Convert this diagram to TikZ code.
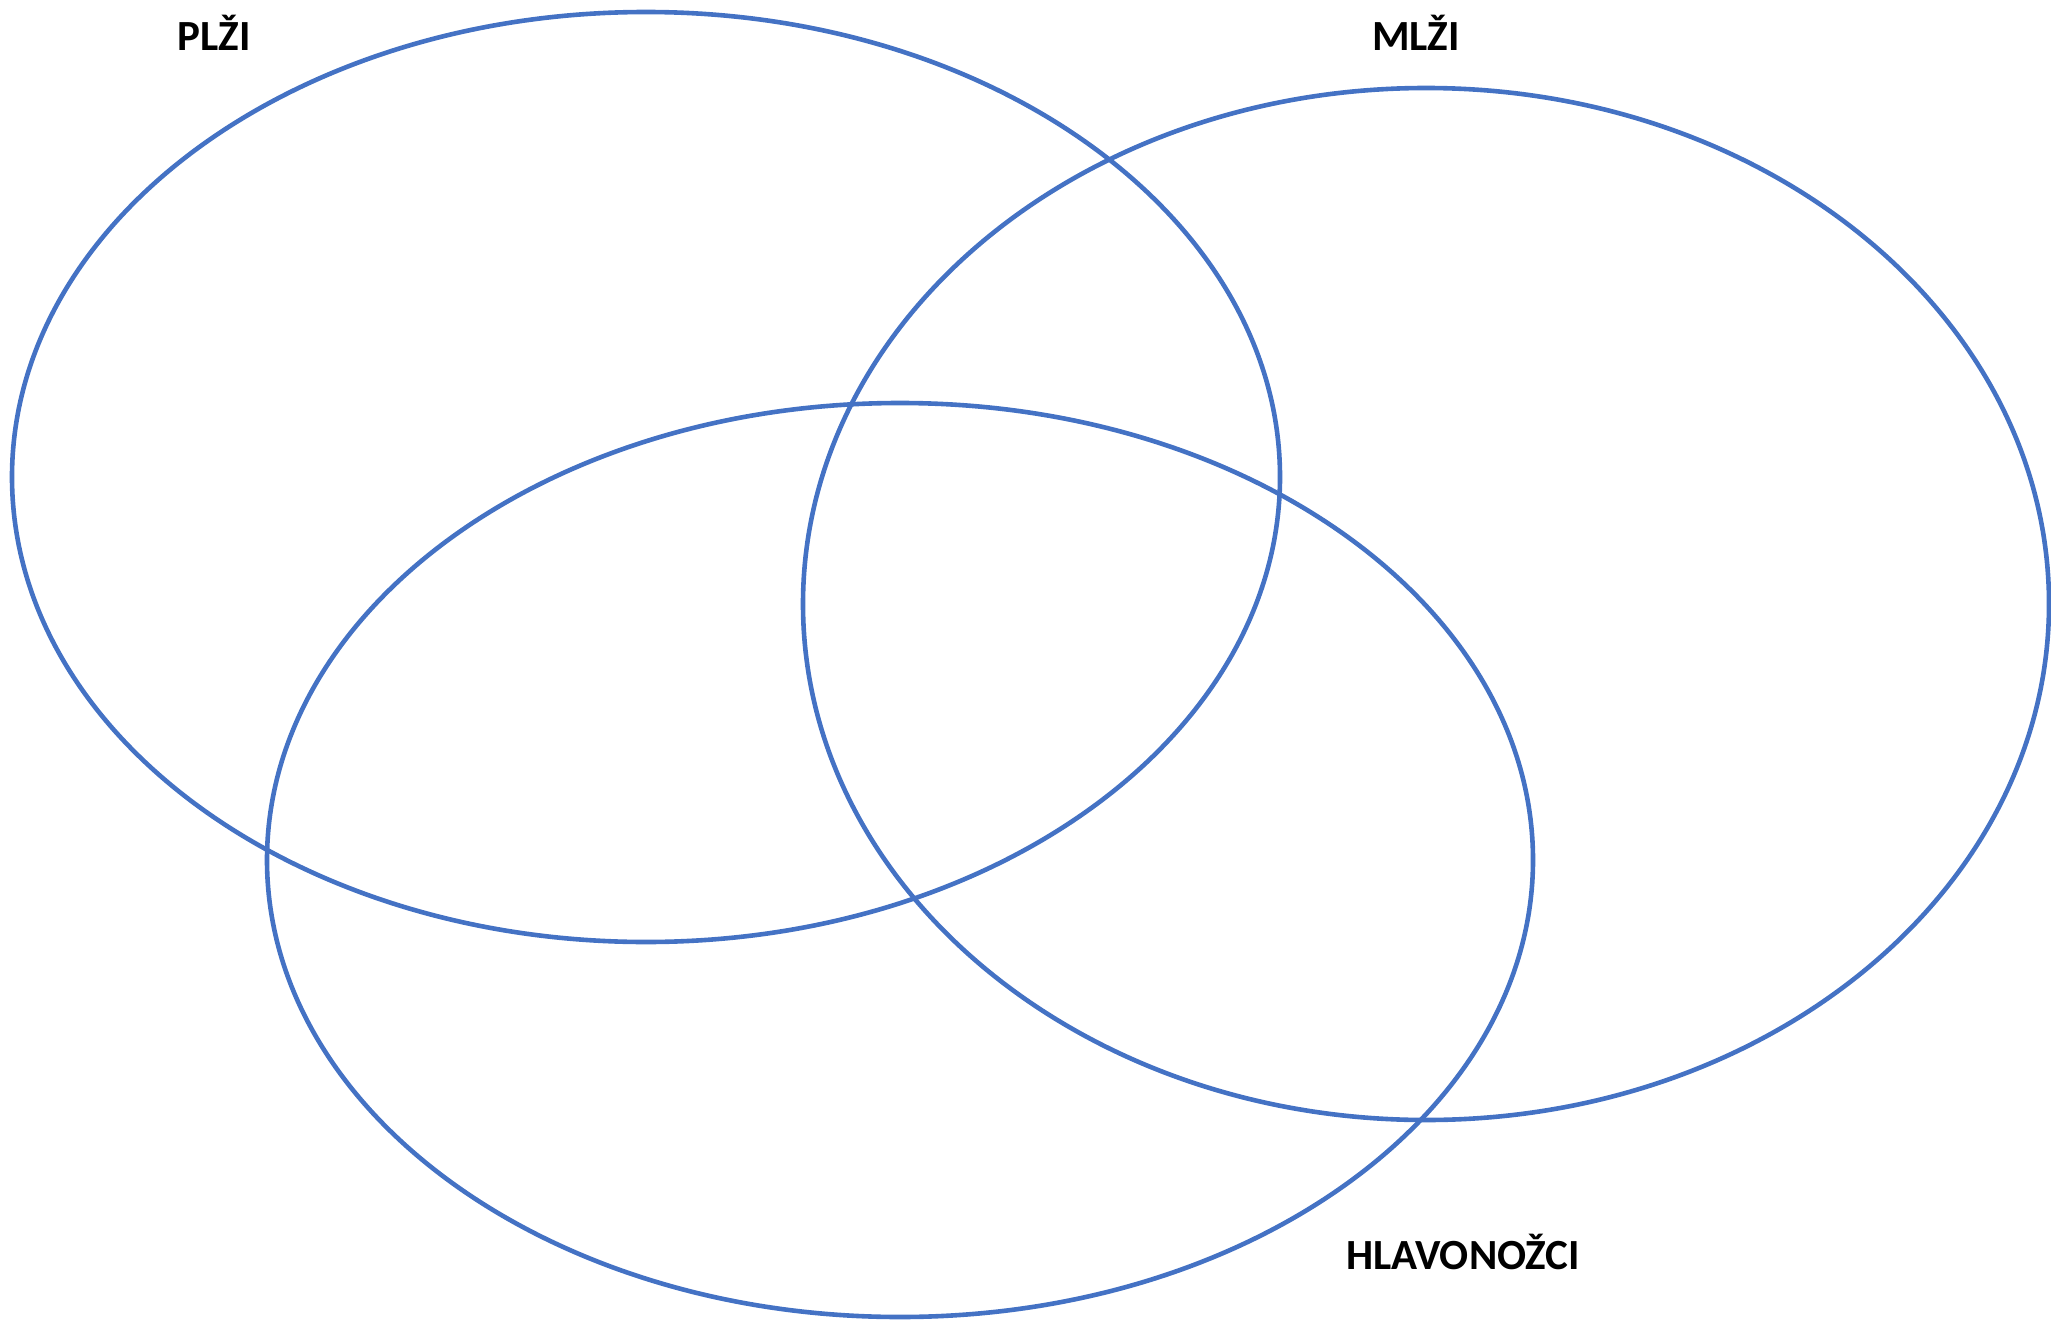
\documentclass[tikz,border=0pt]{standalone}
\usepackage{fontspec}
\setmainfont{Carlito}
\definecolor{setblue}{HTML}{4472C4}
\begin{document}
\begin{tikzpicture}[x=0.5pt, y=-0.5pt, setline/.style={draw=setblue, line width=2.3pt},
    setlabel/.style={font=\fontsize{21.5}{26}\selectfont\bfseries, text=black}]
    \useasboundingbox (0,0) rectangle (2051,1322);
    \draw[setline] (646,477) ellipse [x radius=634, y radius=465];
    \draw[setline] (1426,604) ellipse [x radius=623, y radius=516];
    \draw[setline] (900,860) ellipse [x radius=633, y radius=457];
    \node[setlabel] (plzi) at (214,33) {PLŽI};
    \node[setlabel] (mlzi) at (1416,33) {MLŽI};
    \node[setlabel] (hlavonozci) at (1463,1252) {HLAVONOŽCI};
  \end{tikzpicture}
\end{document}
